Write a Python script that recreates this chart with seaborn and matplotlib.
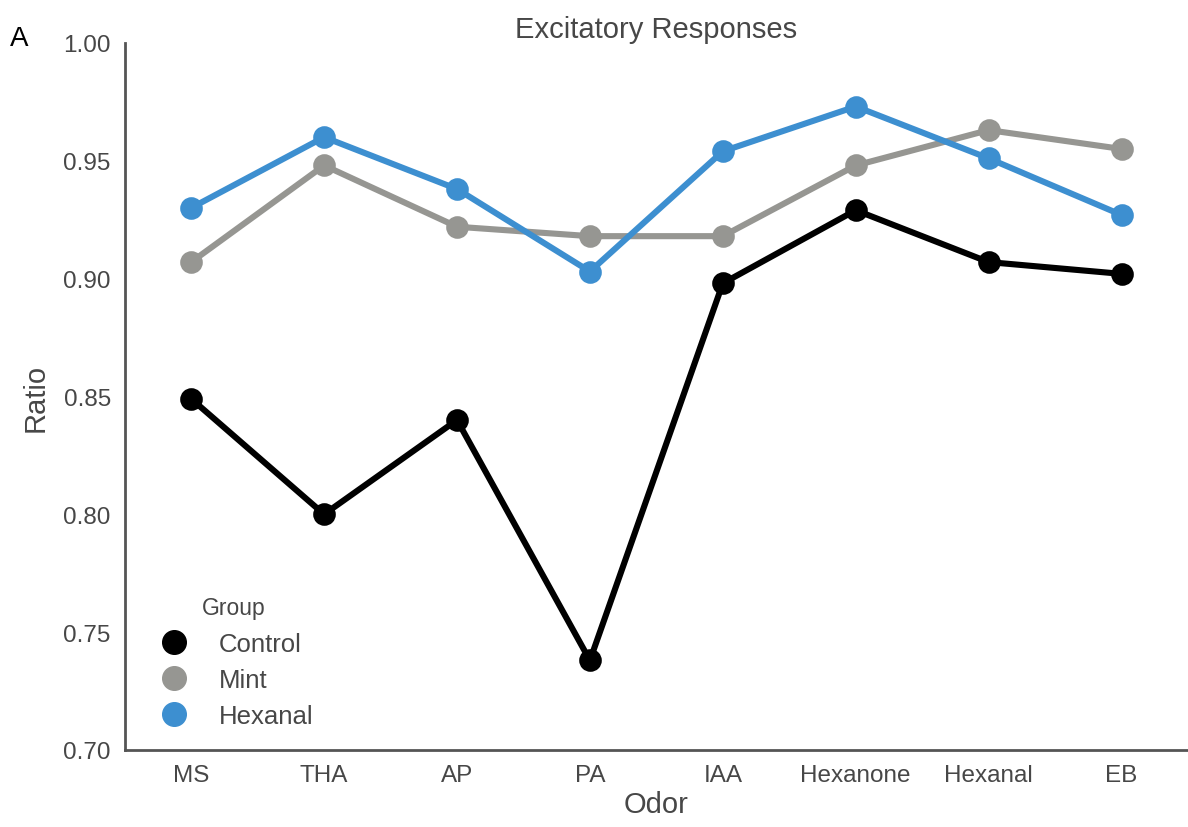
import pandas as pd
import seaborn as sns
import matplotlib.pyplot as plt
from matplotlib.lines import Line2D

odors = ['MS', 'THA', 'AP', 'PA', 'IAA', 'Hexanone', 'Hexanal', 'EB']
groups = ['Control', 'Mint', 'Hexanal']
control = [0.849, 0.800, 0.840, 0.738, 0.898, 0.929, 0.907, 0.902]
mint = [0.907, 0.948, 0.922, 0.918, 0.918, 0.948, 0.963, 0.955]
hexanal = [0.930, 0.960, 0.938, 0.903, 0.954, 0.973, 0.951, 0.927]
colors = ['#000000', '#969692', '#3d8fd0']

df = pd.DataFrame({
    'Odor': odors * 3,
    'Group': [g for g in groups for _ in odors],
    'Ratio': control + mint + hexanal,
})

sns.set_style('white')
plt.rcParams['font.family'] = ['Liberation Sans', 'DejaVu Sans']
txt = '#474747'

fig = plt.figure(figsize=(11.88, 8.28), dpi=100)
ax = fig.add_axes([0.105, 0.093, 0.895, 0.854])
sns.pointplot(data=df, x='Odor', y='Ratio', hue='Group', order=odors, hue_order=groups,
              palette=colors, markers='o', markersize=13, linewidth=4.4, ax=ax)

ax.set_ylim(0.70, 1.00)
ax.set_yticks([0.70, 0.75, 0.80, 0.85, 0.90, 0.95, 1.00])
ax.set_yticklabels(['%.2f' % v for v in ax.get_yticks()])
ax.set_xlim(-0.5, 7.5)
sns.despine(ax=ax)
for s in ['left', 'bottom']:
    ax.spines[s].set_color('#555555')
    ax.spines[s].set_linewidth(2)
ax.tick_params(axis='both', length=0, labelsize=17.5, colors=txt, pad=10)
ax.set_xlabel('Odor', fontsize=21, color=txt, labelpad=3)
ax.set_ylabel('Ratio', fontsize=21, color=txt, labelpad=10)
ax.set_title('Excitatory Responses', fontsize=21, color=txt, pad=4)
fig.text(0.008, 0.945, 'A', fontsize=20, color='black')

# legend with dots only
handles = [Line2D([], [], marker='o', linestyle='', color=c, markersize=17) for c in colors]
leg = ax.legend(handles, groups, title='Group', loc='lower left', bbox_to_anchor=(0.005, -0.002),
                frameon=False, fontsize=18.5, title_fontsize=16.5, handletextpad=0.95,
                labelspacing=0.48, handlelength=1.6)
for t in leg.get_texts():
    t.set_color(txt)
leg.get_title().set_color(txt)

fig.savefig('out.png', dpi=100)
